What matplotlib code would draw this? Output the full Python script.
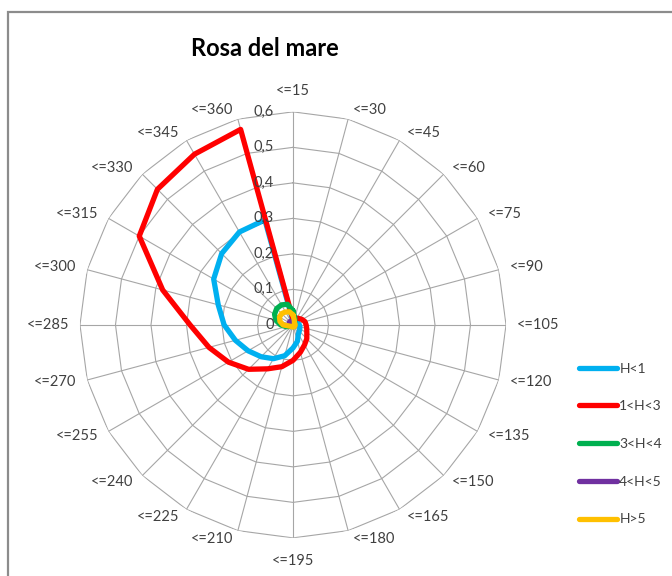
import numpy as np
import matplotlib
matplotlib.use('Agg')
import matplotlib.pyplot as plt
from matplotlib.patches import Rectangle

# ---------------- data ----------------
categories = ['<=15', '<=30', '<=45', '<=60', '<=75', '<=90', '<=105', '<=120',
              '<=135', '<=150', '<=165', '<=180', '<=195', '<=210', '<=225',
              '<=240', '<=255', '<=270', '<=285', '<=300', '<=315', '<=330',
              '<=345', '<=360']

h_lt1 = [0.010, 0.010, 0.010, 0.012, 0.015, 0.015, 0.018, 0.020, 0.022, 0.025,
         0.030, 0.048, 0.065, 0.090, 0.110, 0.127, 0.146, 0.168, 0.194, 0.218,
         0.258, 0.284, 0.302, 0.306]
h_1_3 = [0.015, 0.020, 0.022, 0.025, 0.030, 0.035, 0.037, 0.040, 0.045, 0.055,
         0.065, 0.080, 0.100, 0.122, 0.143, 0.177, 0.210, 0.245, 0.290, 0.380,
         0.500, 0.540, 0.555, 0.570]
h_3_4 = [0.040, 0.020, 0.010, 0.006, 0.005, 0.005, 0.005, 0.005, 0.005, 0.005,
         0.005, 0.005, 0.005, 0.005, 0.005, 0.006, 0.008, 0.020, 0.035, 0.050,
         0.060, 0.065, 0.065, 0.060]
h_4_5 = [0.005, 0.003, 0.002, 0.001, 0.001, 0.001, 0.001, 0.001, 0.001, 0.001,
         0.001, 0.001, 0.001, 0.001, 0.001, 0.001, 0.002, 0.003, 0.006, 0.010,
         0.012, 0.013, 0.012, 0.010]
h_gt5 = [0.028, 0.014, 0.008, 0.006, 0.006, 0.006, 0.006, 0.006, 0.006, 0.006,
         0.006, 0.006, 0.006, 0.006, 0.006, 0.006, 0.008, 0.012, 0.028, 0.038,
         0.044, 0.045, 0.042, 0.038]

series_names = ['H<1', '1<H<3', '3<H<4', '4<H<5', 'H>5']
series_values = [h_lt1, h_1_3, h_3_4, h_4_5, h_gt5]
series_colors = ['#00B0F0', '#FF0000', '#00B050', '#7030A0', '#FFC000']

r_ticks = [0.0, 0.1, 0.2, 0.3, 0.4, 0.5, 0.6]
r_tick_labels = ['0', '0,1', '0,2', '0,3', '0,4', '0,5', '0,6']
title = 'Rosa del mare'

# ---------------- style ----------------
plt.rcParams['font.family'] = ['Lato', 'DejaVu Sans']
grid_color = '#A6A6A6'
text_color = '#404040'
PX = 0.72  # points per pixel at dpi 100

fig = plt.figure(figsize=(6.72, 5.76), dpi=100)
fig.patch.set_facecolor('white')

# chart-area border (extends beyond the right/bottom image edges)
fig.patches.append(Rectangle((8 / 672, -0.2), 1.5, 1 - 12 / 576 + 0.2,
                             transform=fig.transFigure, fill=False,
                             ec='#8C8C8C', lw=1.6, zorder=0))

ax = fig.add_axes([0.119, 0.066, 0.634, 0.740], projection='polar')
ax.set_theta_zero_location('N')
ax.set_theta_direction(-1)
ax.set_ylim(0, r_ticks[-1])
ax.grid(False)
ax.spines['polar'].set_visible(False)
ax.set_xticks([])
ax.set_yticks([])
ax.patch.set_alpha(0)

n = len(categories)
theta = np.arange(n) * 2 * np.pi / n
theta_closed = np.append(theta, theta[0])

# polygon gridlines (Excel radar style)
for r in r_ticks[1:]:
    ax.plot(theta_closed, [r] * (n + 1), color=grid_color, lw=0.8, zorder=1)
for t in theta:
    ax.plot([t, t], [0, r_ticks[-1]], color=grid_color, lw=0.8, zorder=1)

# series
handles = []
for name, vals, col in zip(series_names, series_values, series_colors):
    v = np.append(vals, vals[0])
    ln, = ax.plot(theta_closed, v, color=col, lw=3.8, label=name,
                  solid_joinstyle='round', solid_capstyle='round', zorder=3)
    handles.append(ln)

# radial labels (left of the vertical axis)
for r, lab in zip(r_ticks, r_tick_labels):
    ax.annotate(lab, xy=(0, r), xytext=(-19 * PX, 0), textcoords='offset points',
                ha='right', va='center', fontsize=10.5, color=text_color, zorder=4)

# category labels
for t, lab in zip(theta, categories):
    s, c = np.sin(t), np.cos(t)
    if abs(s) < 0.01:
        ha = 'center'
        dx = 0
        dy = 21 if c > 0 else -23
    else:
        ha = 'left' if s > 0 else 'right'
        dx = np.sign(s) * (3 + 8 * abs(s))
        dy = 9 * c
    ax.annotate(lab, xy=(t, r_ticks[-1]), xytext=(dx * PX, dy * PX),
                textcoords='offset points', ha=ha, va='center',
                fontsize=10.5, color=text_color)

fig.text(265 / 672, 1 - 48 / 576, title, ha='center', va='center',
         fontsize=17, fontweight='bold', color='black')

fig.legend(handles, series_names, loc='center left',
           bbox_to_anchor=(579 / 672, 1 - 444 / 576), frameon=False,
           handlelength=2.7, handletextpad=0.2, labelspacing=1.85,
           borderpad=0, borderaxespad=0, fontsize=10,
           labelcolor=text_color)

fig.savefig('out.png', dpi=100)
